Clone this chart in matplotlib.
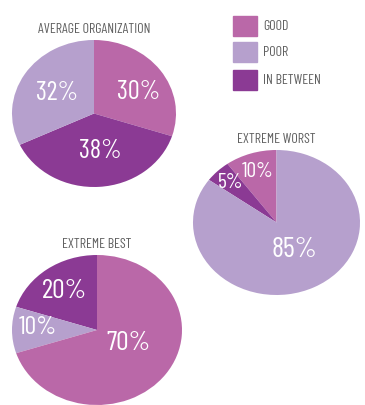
import numpy as np
import matplotlib
matplotlib.use('Agg')
from matplotlib import pyplot as plt

plt.rcParams['font.family'] = ['Barlow Condensed', 'DejaVu Sans']

categories = ['GOOD', 'POOR', 'IN BETWEEN']
colors = ['#ba68a8', '#b6a0cd', '#8b3a94']

avg_org = [30, 32, 38]
extreme_worst = [10, 85, 5]
extreme_best = [70, 10, 20]

W, H = 365, 405
fig = plt.figure(figsize=(W / 100, H / 100), dpi=100)


def pie_box(ax_px, title, values, order, counterclock, label_pos, label_size):
    # label_pos: (radius, angle tweak in degrees) per drawn wedge
    x0, y0, x1, y1 = ax_px
    ax = fig.add_axes([x0 / W, 1 - y1 / H, (x1 - x0) / W, (y1 - y0) / H])
    vals = [values[i] for i in order]
    cols = [colors[i] for i in order]
    wedges, _ = ax.pie(vals, colors=cols, startangle=90, counterclock=counterclock,
                       radius=1, center=(0, 0), wedgeprops=dict(linewidth=0))
    ax.set_aspect('auto')
    ax.set_xlim(-1, 1)
    ax.set_ylim(-1, 1)
    ax.axis('off')
    for w, v, (d, da), s in zip(wedges, vals, label_pos, label_size):
        mid = np.deg2rad((w.theta1 + w.theta2) / 2 + da)
        ax.text(d * np.cos(mid), d * np.sin(mid), '%d%%' % v, color='white',
                fontsize=s, ha='center', va='center')
    ax.text(0, 1.06, title, ha='center', va='bottom',
            fontsize=10, color='#606060', clip_on=False)
    return ax


pie_box((12, 40, 176, 187), 'AVERAGE ORGANIZATION', avg_org, [0, 2, 1], False,
        [(0.62, -8.5), (0.52, 4.4), (0.53, 0)], [19, 19, 19])
pie_box((193, 150, 360, 295), 'EXTREME WORST', extreme_worst, [0, 2, 1], True,
        [(0.74, 0), (0.78, 0), (0.44, 3)], [15.5, 15.5, 20.5])
pie_box((12, 255, 182, 405), 'EXTREME BEST', extreme_best, [2, 1, 0], True,
        [(0.65, 0), (0.695, -3), (0.414, 11)], [20, 18.5, 20])

# legend boxes
for i, (lab, c) in enumerate(zip(categories, colors)):
    y = [16, 42, 70][i]
    fig.patches.append(plt.Rectangle((233 / W, 1 - (y + 20) / H), 24 / W, 20 / H,
                                     transform=fig.transFigure, color=c))
    fig.text(263 / W, 1 - (y + 10) / H, lab, fontsize=10, color='#606060', va='center')

plt.savefig('out.png', dpi=100)
